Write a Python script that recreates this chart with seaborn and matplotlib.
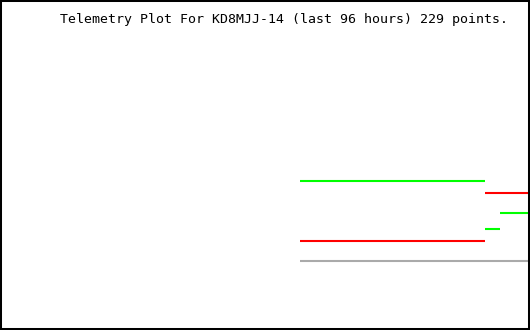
import matplotlib
matplotlib.use("Agg")
import matplotlib.pyplot as plt
import seaborn as sns
import pandas as pd

# Segment data in plot units (x: horizontal position, y: vertical level, inverted axis)
series = ["green", "green", "green", "red", "red", "gray"]
seg_id = [0, 1, 2, 3, 4, 5]
x_start = [300, 485, 500, 300, 485, 300]
x_end = [485, 500, 530, 485, 530, 530]
level = [181, 229, 213, 241, 193, 261]

title = "Telemetry Plot For KD8MJJ-14 (last 96 hours) 229 points."

rows = []
for s, u, a, b, v in zip(series, seg_id, x_start, x_end, level):
    rows.append({"series": s, "seg": u, "x": a, "y": v})
    rows.append({"series": s, "seg": u, "x": b, "y": v})
df = pd.DataFrame(rows)

sns.set_style("white")
fig = plt.figure(figsize=(5.3, 3.3), dpi=100)
ax = fig.add_axes([0, 0, 1, 1])
palette = {"green": "#00FF00", "red": "#FF0000", "gray": "#AAAAAA"}
sns.lineplot(data=df, x="x", y="y", hue="series", units="seg", estimator=None,
             palette=palette, linewidth=1.5, legend=False, ax=ax,
             solid_capstyle="butt")
ax.set_xlim(0, 530)
ax.set_ylim(330, 0)
ax.set_xticks([])
ax.set_yticks([])
ax.set_xlabel("")
ax.set_ylabel("")
for sp in ax.spines.values():
    sp.set_visible(True)
    sp.set_color("black")
    sp.set_linewidth(2.9)

ax.text(283.5, 22.5, title, ha="center", va="baseline", fontsize=9.5,
        family="DejaVu Sans Mono", color="black")

fig.savefig("out.png", dpi=100)
